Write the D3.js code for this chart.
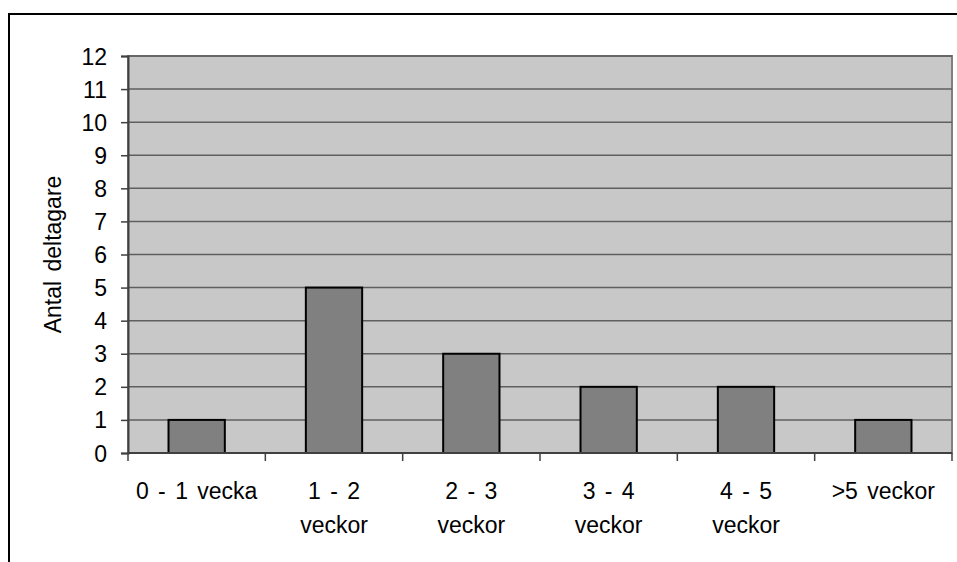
<!DOCTYPE html>
<html><head><meta charset="utf-8">
<script src="https://cdn.jsdelivr.net/npm/d3@7"></script>
<style>html,body{margin:0;padding:0;background:#fff;}svg{display:block;}</style>
</head><body>
<script>
const categories = ["0 - 1 vecka", "1 - 2 veckor", "2 - 3 veckor", "3 - 4 veckor", "4 - 5 veckor", ">5 veckor"];
const categoryLines = [["0 - 1 vecka"], ["1 - 2", "veckor"], ["2 - 3", "veckor"], ["3 - 4", "veckor"], ["4 - 5", "veckor"], [">5 veckor"]];
const values = [1, 5, 3, 2, 2, 1];
const yTicks = [0,1,2,3,4,5,6,7,8,9,10,11,12];
const yTitle = "Antal deltagare";

const W = 957, H = 562;
const plot = {left: 128, top: 56, right: 952, bottom: 453};
const font = "'Liberation Sans', Arial, sans-serif";
const fs = 23;

const svg = d3.select("body").append("svg").attr("width", W).attr("height", H);

svg.append("rect").attr("x", 9).attr("y", 14).attr("width", 970).attr("height", 570)
  .attr("fill", "none").attr("stroke", "#000").attr("stroke-width", 2);

const x = d3.scaleBand().domain(categories).range([plot.left, plot.right]).paddingInner(0).paddingOuter(0);
const y = d3.scaleLinear().domain([0, 12]).range([plot.bottom, plot.top]);

svg.append("rect").attr("x", plot.left).attr("y", plot.top)
  .attr("width", plot.right - plot.left).attr("height", plot.bottom - plot.top)
  .attr("fill", "#c8c8c8").attr("stroke", "#808080").attr("stroke-width", 2);

// gridlines
svg.append("g").selectAll("line").data(yTicks.filter(d => d > 0)).join("line")
  .attr("x1", plot.left).attr("x2", plot.right)
  .attr("y1", d => y(d)).attr("y2", d => y(d))
  .attr("stroke", "#5f5f5f").attr("stroke-width", 1.5);

// bars
const bw = x.bandwidth() * 0.41;
svg.append("g").selectAll("rect").data(values).join("rect")
  .attr("x", (d, i) => x(categories[i]) + x.bandwidth() / 2 - bw / 2)
  .attr("y", d => y(d))
  .attr("width", bw)
  .attr("height", d => y(0) - y(d))
  .attr("fill", "#808080").attr("stroke", "#000").attr("stroke-width", 2);

// y axis
const yAxis = d3.axisLeft(y).tickValues(yTicks).tickSize(7).tickPadding(14).tickFormat(d3.format("d"));
const gy = svg.append("g").attr("transform", `translate(${plot.left},0)`).call(yAxis);
gy.select(".domain").attr("stroke", "#404040").attr("stroke-width", 2);
gy.selectAll(".tick line").attr("stroke", "#404040").attr("stroke-width", 1.5);
gy.selectAll(".tick text").attr("font-family", font).attr("font-size", fs).attr("fill", "#000")
  .attr("dy", "0.35em");

// x axis
const gx = svg.append("g").attr("transform", `translate(0,${plot.bottom})`);
gx.append("line").attr("x1", plot.left).attr("x2", plot.right).attr("y1", 0).attr("y2", 0)
  .attr("stroke", "#404040").attr("stroke-width", 2);
const bounds = categories.map(c => x(c)).concat([plot.right]);
gx.selectAll("line.tk").data(bounds).join("line").attr("class", "tk")
  .attr("x1", d => d).attr("x2", d => d).attr("y1", 0).attr("y2", 8)
  .attr("stroke", "#404040").attr("stroke-width", 1.5);
gx.selectAll("text").data(categories).join("text")
  .attr("font-family", font).attr("font-size", fs).attr("text-anchor", "middle").attr("fill", "#000")
  .attr("word-spacing", 3)
  .each(function(c, i) {
    const t = d3.select(this);
    categoryLines[i].forEach((ln, j) => {
      t.append("tspan").attr("x", x(c) + x.bandwidth() / 2).attr("y", 46 + j * 34).text(ln);
    });
  });

// y title
svg.append("text").attr("transform", `translate(61,${(plot.top + plot.bottom) / 2}) rotate(-90)`)
  .attr("text-anchor", "middle").attr("font-family", font).attr("font-size", 23).attr("fill", "#000")
  .attr("word-spacing", 3)
  .text(yTitle);
</script>
</body></html>
